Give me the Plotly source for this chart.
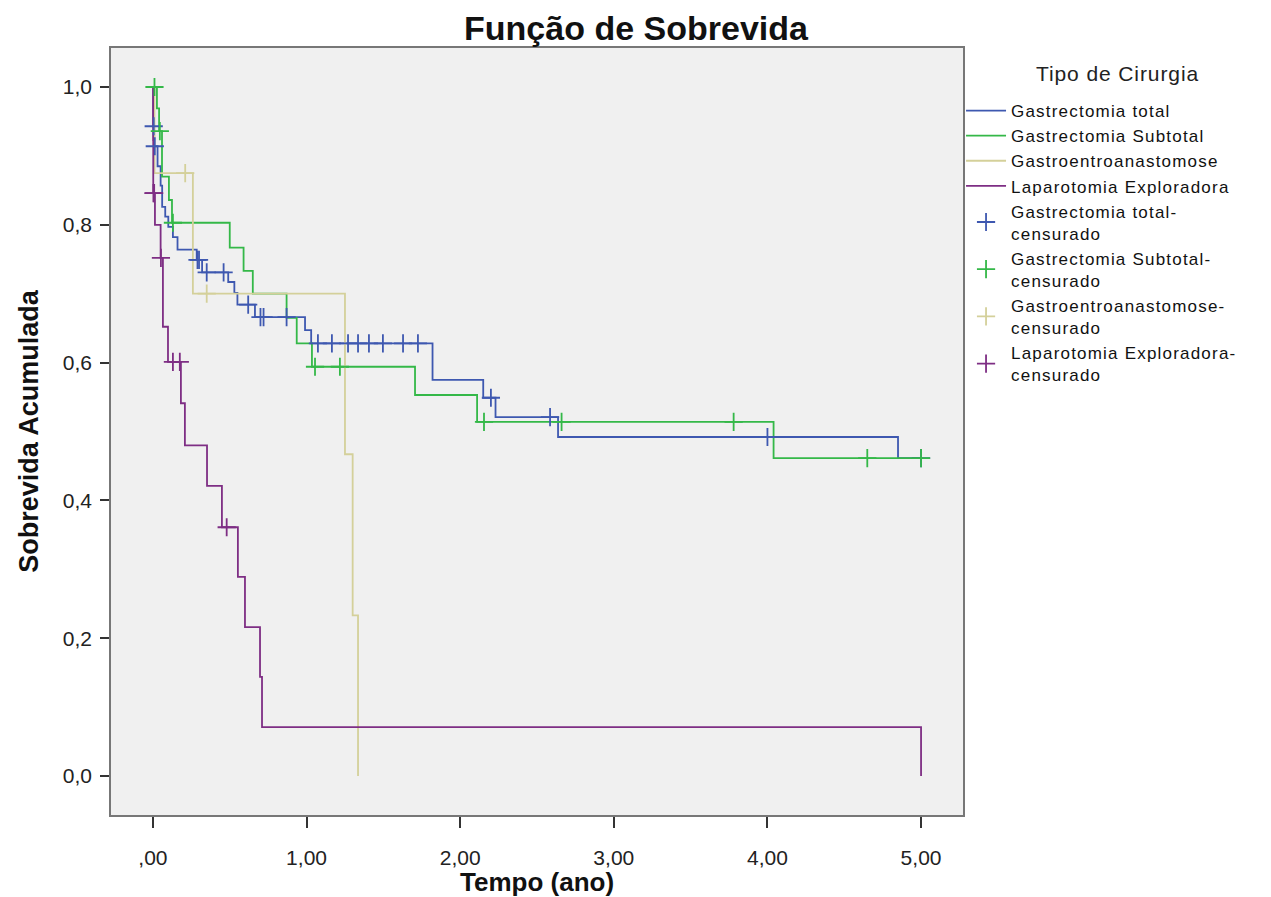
import plotly.graph_objects as go

# ---- Data ----
group_names = ["Gastrectomia total", "Gastrectomia Subtotal",
               "Gastroentroanastomose", "Laparotomia Exploradora"]

# event times (years) and cumulative survival after each time
gt_time = [0, 0.002, 0.008, 0.03, 0.05, 0.06, 0.08, 0.10, 0.13, 0.16, 0.285, 0.32,
           0.49, 0.53, 0.55, 0.664, 0.99, 1.03, 1.82, 2.15, 2.23, 2.637, 4.85, 5.0]
gt_surv = [1.0, 0.943, 0.914, 0.885, 0.857, 0.826, 0.812, 0.797, 0.782, 0.764, 0.749, 0.731,
           0.717, 0.701, 0.684, 0.666, 0.647, 0.628, 0.575, 0.549, 0.521, 0.492, 0.4615, 0.4615]
gt_cens = [0.005, 0.012, 0.29, 0.30, 0.35, 0.46, 0.62, 0.70, 0.72, 0.87, 1.074, 1.165,
           1.27, 1.335, 1.406, 1.497, 1.628, 1.725, 2.2, 2.585, 4.0, 5.0]

gs_time = [0, 0.026, 0.04, 0.059, 0.104, 0.124, 0.50, 0.59, 0.65, 0.87, 0.936, 1.035,
           1.706, 2.11, 4.04, 5.0]
gs_surv = [1.0, 0.969, 0.936, 0.870, 0.836, 0.803, 0.767, 0.733, 0.700, 0.665, 0.628, 0.594,
           0.553, 0.514, 0.4615, 0.4615]
gs_cens = [0.01, 0.045, 0.13, 1.055, 1.217, 2.155, 2.66, 3.78, 4.65, 5.0]

ge_time = [0, 0.01, 0.26, 1.25, 1.30, 1.335]
ge_surv = [1.0, 0.875, 0.70, 0.467, 0.233, 0.0]
ge_cens = [0.21, 0.35]

le_time = [0, 0.001, 0.002, 0.013, 0.05, 0.065, 0.098, 0.182, 0.208, 0.352, 0.449,
           0.553, 0.599, 0.697, 0.71, 5.0]
le_surv = [1.0, 0.923, 0.846, 0.80, 0.752, 0.652, 0.601, 0.541, 0.480, 0.421, 0.361,
           0.289, 0.216, 0.144, 0.071, 0.0]
le_cens = [0.003, 0.008, 0.052, 0.13, 0.175, 0.48]

x_tick_vals = [0, 1, 2, 3, 4, 5]
x_tick_text = [",00", "1,00", "2,00", "3,00", "4,00", "5,00"]
y_tick_vals = [0.0, 0.2, 0.4, 0.6, 0.8, 1.0]
y_tick_text = ["0,0", "0,2", "0,4", "0,6", "0,8", "1,0"]

colors = ["#3E58B0", "#34B848", "#D4D09A", "#7E2E84"]


def surv_at(times, survs, t):
    s = survs[0]
    for ti, si in zip(times, survs):
        if ti <= t:
            s = si
        else:
            break
    return s


def spaced(txt, ls=1.2):
    return '<span style="letter-spacing:%.1fpx">' % ls + txt + '</span>'


curves = [(gt_time, gt_surv, gt_cens), (gs_time, gs_surv, gs_cens),
          (ge_time, ge_surv, ge_cens), (le_time, le_surv, le_cens)]

FONT = "Liberation Sans, Arial, sans-serif"
fig = go.Figure()

for name, col, (tt, ss, cc) in zip(group_names, colors, curves):
    fig.add_trace(go.Scatter(x=tt, y=ss, mode="lines", name=spaced(name),
                             line=dict(shape="hv", color=col, width=1.8)))

for name, col, (tt, ss, cc) in zip(group_names, colors, curves):
    fig.add_trace(go.Scatter(x=cc, y=[surv_at(tt, ss, c) for c in cc], mode="markers",
                             name=spaced(name + "-") + "<br>" + spaced("censurado"),
                             marker=dict(symbol="cross-thin", size=13,
                                         line=dict(color=col, width=1.8), color=col)))

W, H = 1271, 897
fig.update_layout(
    width=W, height=H,
    margin=dict(l=111, r=308, t=48, b=82),
    paper_bgcolor="white", plot_bgcolor="#F0F0F0",
    font=dict(family=FONT, color="#111", size=20),
    title=dict(text="<b>Função de Sobrevida</b>", xref="container", x=636 / W, xanchor="center",
               yref="container", y=1 - 28 / H, yanchor="middle",
               font=dict(family=FONT, size=34, color="#111")),
    showlegend=True,
    legend=dict(x=0.9977, xanchor="left", y=0.9413, yanchor="top",
                font=dict(family=FONT, size=17, color="#111"),
                bgcolor="rgba(0,0,0,0)", itemwidth=40, tracegroupgap=0),
    annotations=[
        dict(text=spaced("Tipo de Cirurgia", 0.9), xref="paper", yref="paper",
             x=1.1808, y=0.9674, xanchor="center", yanchor="middle",
             showarrow=False, font=dict(family=FONT, size=21, color="#222")),
        # x-axis title placed low, as in the reference
        dict(text="<b>Tempo (ano)</b>", xref="paper", yref="paper",
             x=0.5, y=(815 - 865) / 767, xanchor="center", yanchor="top",
             showarrow=False, font=dict(family=FONT, size=26, color="#111")),
    ],
)

fig.update_xaxes(range=[-0.273, 5.273], tickvals=x_tick_vals, ticktext=x_tick_text,
                 ticks="outside", ticklen=11, tickwidth=1.5, tickcolor="#333",
                 showgrid=False, zeroline=False, showline=True, mirror=True,
                 linecolor="#777", linewidth=1.5, automargin=False,
                 tickfont=dict(family=FONT, size=21, color="#222"), ticklabelstandoff=12)
fig.update_yaxes(range=[-0.0566, 1.0566], tickvals=y_tick_vals, ticktext=y_tick_text,
                 ticks="outside", ticklen=9, tickwidth=1.5, tickcolor="#333",
                 showgrid=False, zeroline=False, showline=True, mirror=True,
                 linecolor="#777", linewidth=1.5, automargin=False,
                 tickfont=dict(family=FONT, size=21, color="#222"), ticklabelstandoff=4,
                 title=dict(text="<b>Sobrevida Acumulada</b>", standoff=16,
                            font=dict(family=FONT, size=27, color="#111")))

# remove the browser's default 8px body margin so the figure fills the window
fig.write_html("out.html", config={"displayModeBar": False},
               post_script="document.body.style.margin='0';")
